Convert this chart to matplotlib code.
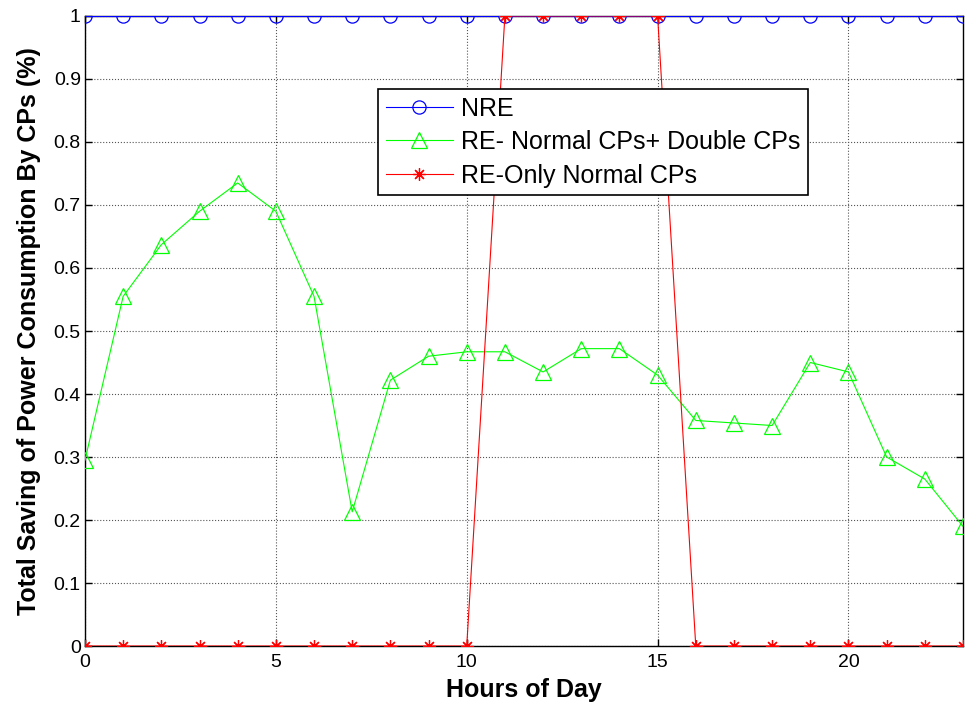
import matplotlib
matplotlib.use("Agg")
import matplotlib.pyplot as plt
import numpy as np

plt.rcParams['font.family'] = ['Liberation Sans', 'DejaVu Sans']

hours = list(range(24))
nre = [1.0] * 24
re_double = [0.295, 0.555, 0.637, 0.69, 0.735, 0.69, 0.555, 0.213, 0.422, 0.46,
             0.467, 0.467, 0.435, 0.472, 0.472, 0.43, 0.358, 0.354, 0.35, 0.45,
             0.435, 0.30, 0.265, 0.19]
re_normal = [0, 0, 0, 0, 0, 0, 0, 0, 0, 0, 0, 1, 1, 1, 1, 1, 0, 0, 0, 0, 0, 0, 0, 0]
x_ticks = [0, 5, 10, 15, 20]
y_ticks = [0, 0.1, 0.2, 0.3, 0.4, 0.5, 0.6, 0.7, 0.8, 0.9, 1]
y_ticklabels = ['0', '0.1', '0.2', '0.3', '0.4', '0.5', '0.6', '0.7', '0.8', '0.9', '1']

fig = plt.figure(figsize=(9.69, 7.10), dpi=100)
ax = fig.add_axes([0.0877, 0.0901, 0.9061, 0.8874])

ax.plot(hours, nre, color='#0000ff', lw=0.8, marker='o', ms=9.5,
        mfc='none', mec='#0000ff', mew=0.9, label='NRE', zorder=3)
ax.plot(hours, re_double, color='#00ff00', lw=0.8, marker='^', ms=11,
        mfc='none', mec='#00ff00', mew=0.9, label='RE- Normal CPs+ Double CPs', zorder=3)
ax.plot(hours, re_normal, color='#ff0000', lw=0.8, marker=(8, 2, 0), ms=9,
        mec='#ff0000', mew=0.9, label='RE-Only Normal CPs', zorder=4)

ax.set_xlim(0, 23)
ax.set_ylim(0, 1)
ax.set_xticks(x_ticks)
ax.set_yticks(y_ticks)
ax.set_yticklabels(y_ticklabels)
ax.tick_params(direction='in', top=True, right=True, labelsize=14, length=5, width=1, pad=3)
ax.tick_params(axis='x', pad=6)
ax.grid(True, linestyle=':', color='#555555', lw=0.8)
ax.set_axisbelow(True)
for s in ax.spines.values():
    s.set_linewidth(1.0)

ax.set_xlabel('Hours of Day', fontsize=18, fontweight='bold', labelpad=5)
ax.set_ylabel('Total Saving of Power Consumption By CPs (%)', fontsize=18, fontweight='bold', labelpad=9)

leg = ax.legend(loc='upper left', bbox_to_anchor=(0.334, 0.884), fontsize=18,
                frameon=True, fancybox=False, edgecolor='black', framealpha=1,
                borderpad=0.3, labelspacing=0.38, handlelength=2.7, handletextpad=0.3,
                borderaxespad=0)
leg.get_frame().set_linewidth(1.2)

fig.savefig('out.png', dpi=100)
